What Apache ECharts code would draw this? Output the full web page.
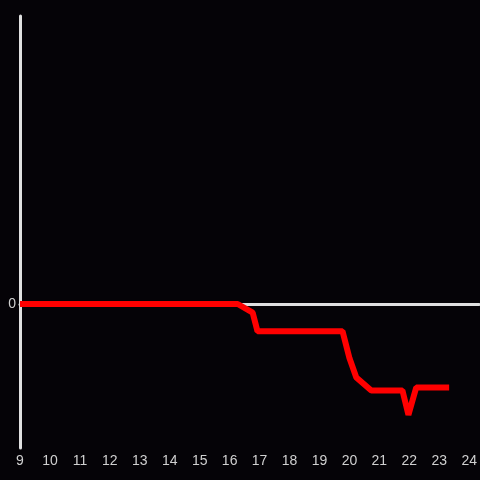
<!DOCTYPE html>
<html>
<head>
<meta charset="utf-8">
<script src="https://cdn.jsdelivr.net/npm/echarts@6/dist/echarts.min.js"></script>
<style>
  html, body { margin: 0; height: 100%; background: #050307; }
  #chart { width: 480px; height: 480px; }
</style>
</head>
<body>
<div id="chart"></div>
<script>
  // hours on the x axis and the value at each turning point of the line
  const hours = [9, 16.27, 16.77, 16.93, 19.77, 20.0, 20.23, 20.73, 21.77, 21.97, 22.23, 23.33];
  const values = [0, 0, -0.06, -0.19, -0.19, -0.375, -0.51, -0.6, -0.6, -0.77, -0.58, -0.58];
  const yTicks = [0];

  const mChart = echarts.init(document.getElementById('chart'), null, {renderer: 'canvas'});

  const points = hours.map((h, i) => [h, values[i]]);
  const labelColor = '#d0d0d0';
  const axisColor = '#e0e0e0';

  const option = {
    backgroundColor: '#050307',
    animation: false,
    grid: {left: 20, right: 0, top: 16, bottom: 32, containLabel: false},
    xAxis: [
      {
        type: 'value',
        min: 9,
        max: 24.333,
        interval: 1,
        axisLine: {show: false, onZero: false},
        axisTick: {show: false},
        splitLine: {show: false},
        axisLabel: {
          color: labelColor,
          fontSize: 14,
          fontFamily: 'Liberation Sans',
          margin: 6,
          showMaxLabel: false
        }
      },
      {
        // the zero line across the plot
        type: 'value',
        min: 9,
        max: 24.333,
        position: 'bottom',
        axisLine: {show: true, onZero: true, lineStyle: {color: axisColor, width: 3}},
        axisTick: {show: false},
        splitLine: {show: false},
        axisLabel: {show: false}
      }
    ],
    yAxis: {
      type: 'value',
      min: -1,
      max: 2,
      interval: 1,
      axisLine: {show: true, lineStyle: {color: axisColor, width: 3}},
      axisTick: {show: false},
      splitLine: {show: false},
      axisLabel: {
        color: labelColor,
        fontSize: 14,
        fontFamily: 'Liberation Sans',
        margin: 4,
        formatter: v => (yTicks.includes(v) ? String(v) : '')
      }
    },
    series: [{
      type: 'line',
      data: points,
      showSymbol: false,
      lineStyle: {color: '#ff0000', width: 6},
      z: 5
    }]
  };

  mChart.setOption(option);
</script>
</body>
</html>
